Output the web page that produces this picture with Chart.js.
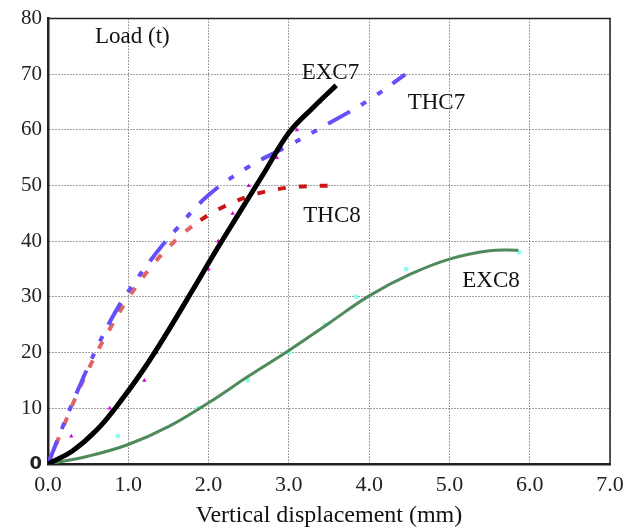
<!DOCTYPE html>
<html>
<head>
<meta charset="utf-8">
<script src="https://cdn.jsdelivr.net/npm/chart.js@4/dist/chart.umd.min.js"></script>
<style>
html,body{margin:0;padding:0;background:#fff;}
#wrap{width:635px;height:528px;}
</style>
</head>
<body>
<div id="wrap"><canvas id="c" width="635" height="528"></canvas></div>
<script>
// Vertical displacement (mm) vs Load (t)
const exc7X = [0, 0.3, 0.6, 0.9, 1.2, 1.5, 1.8, 2.1, 2.4, 2.7, 3.0, 3.3, 3.59];
const exc7Y = [0, 2.3, 6.0, 11.2, 17.2, 24.0, 31.2, 38.5, 45.5, 52.5, 59.5, 64.0, 68.0];

const thc7X = [0, 0.2, 0.4, 0.6, 0.8, 1.0, 1.3, 1.6, 2.0, 2.5, 3.0, 3.5, 4.0, 4.45];
const thc7Y = [0, 7.3, 14.2, 20.6, 26.3, 31.0, 37.0, 42.2, 48.3, 53.4, 57.2, 61.2, 65.4, 70.0];

const thc8X = [0, 0.2, 0.4, 0.6, 0.8, 1.0, 1.3, 1.6, 1.9, 2.2, 2.5, 2.8, 3.1, 3.49];
const thc8Y = [0, 7.0, 13.8, 19.8, 25.0, 29.8, 35.7, 40.3, 43.8, 46.3, 48.1, 49.2, 49.8, 50.0];

const exc8X = [0, 0.5, 1.0, 1.5, 2.0, 2.5, 3.0, 3.5, 4.0, 4.5, 5.0, 5.5, 5.86];
const exc8Y = [0, 1.4, 3.5, 6.7, 11.0, 15.8, 20.4, 25.3, 30.2, 34.0, 36.8, 38.3, 38.4];

// experimental points
const ptsMagX = [0, 0.29, 0.77, 1.2, 1.35, 1.55, 1.75, 2.0, 2.12, 2.3, 2.5, 2.85, 3.1, 3.39];
const ptsMagY = [0, 5, 10, 15, 20, 25, 30, 35, 40, 45, 50, 55, 60, 65];
const ptsCyanX = [0, 0.87, 1.87, 2.49, 3.0, 3.45, 3.84, 4.46, 5.87];
const ptsCyanY = [0, 5, 10, 15, 20, 25, 30, 35, 38];

const xTicks = [0, 1, 2, 3, 4, 5, 6, 7];
const yTicks = [0, 10, 20, 30, 40, 50, 60, 70, 80];

const labelNames = ["Load (t)", "EXC7", "THC7", "THC8", "EXC8"];
const labelX = [0.585, 3.16, 4.48, 3.18, 5.16];
const labelY = [75.7, 69.2, 63.7, 43.5, 31.8];

const xTitle = "Vertical displacement (mm)";

const zip = (xs, ys) => xs.map((x, i) => ({x: x, y: ys[i]}));

const serif = '"Liberation Serif", "Times New Roman", serif';

const textPlugin = {
  id: 'textPlugin',
  afterDatasetsDraw(chart) {
    const {ctx, scales: {x, y}, chartArea: a} = chart;
    ctx.save();
    ctx.font = '23px ' + serif;
    ctx.fillStyle = '#111';
    ctx.textAlign = 'left';
    ctx.textBaseline = 'alphabetic';
    labelNames.forEach((t, i) => {
      ctx.fillText(t, x.getPixelForValue(labelX[i]), y.getPixelForValue(labelY[i]));
    });
    // frame top/right
    ctx.strokeStyle = '#222';
    ctx.lineWidth = 1.5;
    ctx.beginPath();
    ctx.moveTo(a.left, a.top);
    ctx.lineTo(a.right, a.top);
    ctx.lineTo(a.right, a.bottom);
    ctx.stroke();
    ctx.restore();
  }
};

new Chart(document.getElementById('c'), {
  type: 'scatter',
  data: {
    datasets: [
      {
        label: 'EXC8',
        data: zip(exc8X, exc8Y),
        showLine: true,
        borderColor: '#4f8a5b',
        borderWidth: 3,
        pointRadius: 0,
        tension: 0.4,
        order: 3
      },
      {
        label: 'THC8',
        data: zip(thc8X, thc8Y),
        showLine: true,
        borderColor: '#e06464',
        borderWidth: 4,
        borderDash: [8, 13],
        pointRadius: 0,
        tension: 0.4,
        segment: {
          borderColor: c => (c.p0.parsed.x >= 1.9 ? '#cc1515' : '#e06464')
        },
        order: 4
      },
      {
        label: 'THC7',
        data: zip(thc7X, thc7Y),
        showLine: true,
        borderColor: '#6450f8',
        borderWidth: 4,
        borderDash: [25, 13, 6, 13, 6, 13],
        pointRadius: 0,
        tension: 0.4,
        order: 2
      },
      {
        label: 'EXC7',
        data: zip(exc7X, exc7Y),
        showLine: true,
        borderColor: '#000',
        borderWidth: 5,
        pointRadius: 0,
        tension: 0.4,
        order: 1
      },
      {
        label: 'EXC7 pts',
        data: zip(ptsMagX, ptsMagY),
        showLine: false,
        pointStyle: 'triangle',
        pointRadius: 2.5,
        backgroundColor: '#d400d4',
        borderColor: '#d400d4',
        borderWidth: 0,
        order: 5
      },
      {
        label: 'EXC8 pts',
        data: zip(ptsCyanX, ptsCyanY),
        showLine: false,
        pointStyle: 'rect',
        pointRadius: 3,
        backgroundColor: '#88fff0',
        borderColor: '#88fff0',
        borderWidth: 0,
        order: 5
      }
    ]
  },
  options: {
    responsive: false,
    animation: false,
    layout: {padding: {top: 17, right: 25, left: 0, bottom: 0}},
    plugins: {legend: {display: false}, tooltip: {enabled: false}},
    scales: {
      x: {
        type: 'linear',
        min: 0, max: 7,
        afterBuildTicks: s => { s.ticks = xTicks.map(v => ({value: v})); },
        afterFit: s => { s.height = 64; },
        ticks: {
          callback: v => Number(v).toFixed(1),
          color: '#222',
          font: {family: serif, size: 22},
          padding: 8,
          maxRotation: 0
        },
        grid: {color: '#444', lineWidth: 1, drawTicks: false},
        border: {display: true, color: '#222', width: 2.5, dash: [1, 2]},
        title: {display: true, text: xTitle, color: '#111', font: {family: serif, size: 24, lineHeight: 1.0}, padding: {top: 0, bottom: 0}}
      },
      y: {
        type: 'linear',
        min: 0, max: 80,
        afterBuildTicks: s => { s.ticks = yTicks.map(v => ({value: v})); },
        afterFit: s => { s.width = 48; },
        ticks: {
          color: '#222',
          font: c => (c.tick && c.tick.value === 0)
            ? {family: '"DejaVu Sans", sans-serif', size: 18, weight: 'bold'}
            : {family: serif, size: 21},
          padding: 6
        },
        grid: {color: '#444', lineWidth: 1, drawTicks: false},
        border: {display: true, color: '#222', width: 2.5, dash: [1, 2]}
      }
    }
  },
  plugins: [textPlugin]
});
</script>
</body>
</html>
